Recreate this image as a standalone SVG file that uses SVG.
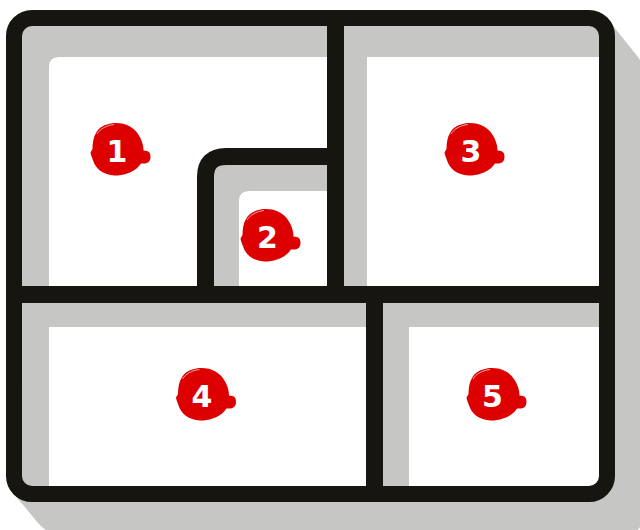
<svg xmlns="http://www.w3.org/2000/svg" width="640" height="530" viewBox="0 0 640 530">
  <style>
    .wall { fill: none; stroke: #161510; stroke-width: 17; }
    .edge { fill: none; stroke: #161510; stroke-width: 16; }
    .room { fill: #ffffff; }
    .num { font-family: "DejaVu Sans", sans-serif; font-weight: 700; font-size: 30px; fill: #ffffff; text-anchor: middle; }
  </style>
  <defs>
    <g id="helmet">
      <path fill="#dc0000" d="M113,123 C119,122.500 125,123.500 130,126.500 C136,130 140,136 142,142 C143,145 143.500,148 143.500,150.500 L147,151 C149.500,151.500 150.500,154 150.500,157 C150.500,160.500 148.500,163 145,163.500 L141,163.500 C138.500,167.500 134.500,170.500 130,172.500 C126,174 122,175 118,175.500 C113,175.500 108,175 103,172.500 C99,170.500 96,167 94,163 L91,155 L90.500,152.500 L92.500,149 C92.500,143 93.500,137 96,133 C99,127.500 104,124.500 113,123 Z"/>
      <path fill="none" stroke="#ffffff" stroke-width="0.800" opacity="0.8" d="M97,134 C100,129 106,125.500 114,124.500"/>
    </g>
  </defs>
  <g id="plan">
    <path id="shadow" fill="#c6c6c5" d="M610,22 L638,57 Q644,65 644,75 V510 Q644,536 620,536 H60 Q48,534 38,523 L14,494 Z"/>
    <rect id="floor" x="14" y="18" width="593" height="476" rx="18" ry="18" fill="#c6c6c5"/>
  </g>
  <g id="room-1">
    <path class="room" d="M59,57 H328 V286 H49 V67 Q49,57 59,57 Z"/>
    <path fill="#c6c6c5" d="M205,156 H328 V286 H205 Z"/>
  </g>
  <g id="room-2">
    <path class="room" d="M249,191 H328 V286 H239 V201 Q239,191 249,191 Z"/>
  </g>
  <g id="room-3">
    <rect class="room" x="367" y="57" width="233" height="229"/>
  </g>
  <g id="room-4">
    <rect class="room" x="49" y="327" width="317" height="160"/>
  </g>
  <g id="room-5">
    <path class="room" d="M409,327 H600 V476 Q600,487 589,487 H409 Z"/>
  </g>
  <g id="connectors">
    <rect class="edge" x="14" y="18" width="593" height="476" rx="18" ry="18"/>
    <path class="wall" d="M335.500,18 V294"/>
    <path class="wall" d="M205.500,294 V177 Q205.500,156.500 226,156.500 H335.500"/>
    <path class="wall" d="M14,294.500 H607"/>
    <path class="wall" d="M374.500,294 V494"/>
  </g>
  <g id="badge-1">
    <use href="#helmet"/>
    <text class="num" x="117" y="161.500">1</text>
  </g>
  <g id="badge-2">
    <use href="#helmet" x="150" y="86"/>
    <text class="num" x="267.500" y="247.500">2</text>
  </g>
  <g id="badge-3">
    <use href="#helmet" x="354"/>
    <text class="num" x="471" y="161.500">3</text>
  </g>
  <g id="badge-4">
    <use href="#helmet" x="85.500" y="245"/>
    <text class="num" x="202" y="406.500">4</text>
  </g>
  <g id="badge-5">
    <use href="#helmet" x="376" y="245"/>
    <text class="num" x="492.500" y="406.500">5</text>
  </g>
</svg>
